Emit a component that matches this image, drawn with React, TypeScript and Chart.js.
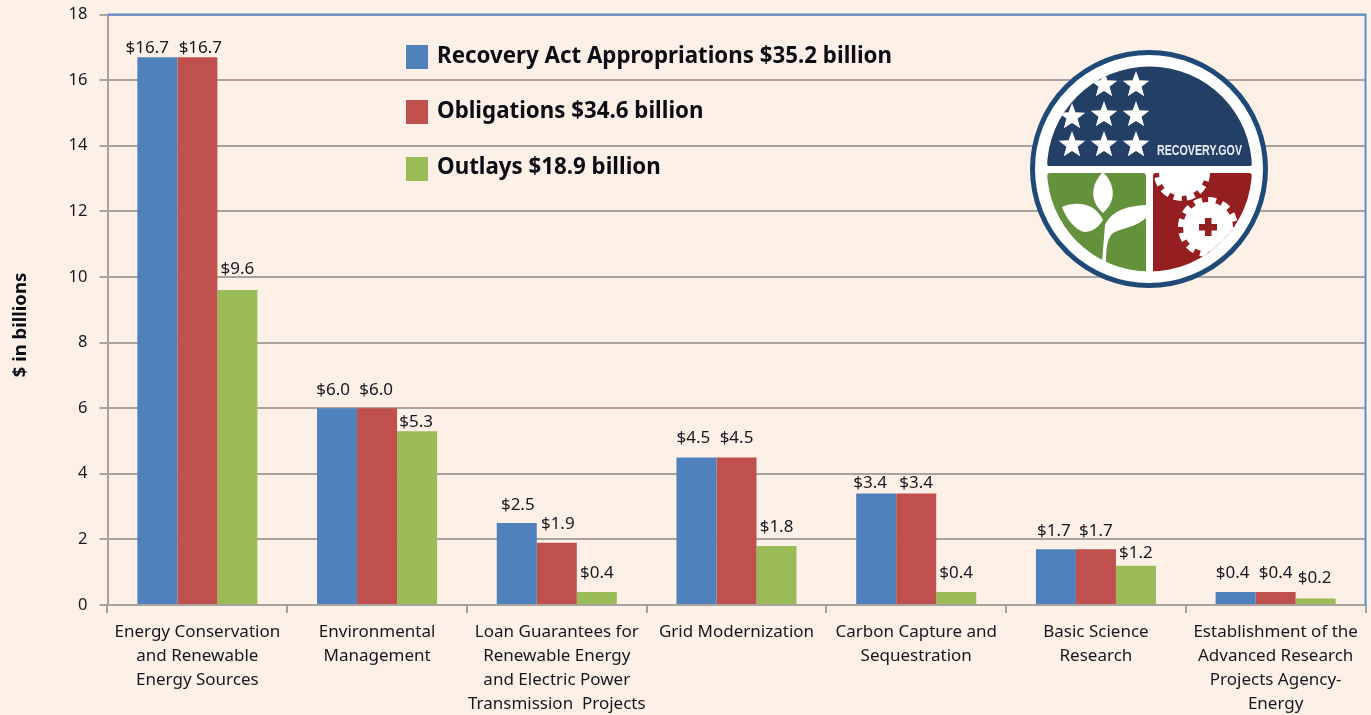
import React, { useEffect, useRef } from "react";
import { Chart, registerables } from "chart.js";

Chart.register(...registerables);

const categories = [
  ["Energy Conservation", "and Renewable", "Energy Sources"],
  ["Environmental", "Management"],
  ["Loan Guarantees for", "Renewable Energy", "and Electric Power", "Transmission  Projects"],
  ["Grid Modernization"],
  ["Carbon Capture and", "Sequestration"],
  ["Basic Science", "Research"],
  ["Establishment of the", "Advanced Research", "Projects Agency-", "Energy"],
];
const appropriations = [16.7, 6.0, 2.5, 4.5, 3.4, 1.7, 0.4];
const obligations = [16.7, 6.0, 1.9, 4.5, 3.4, 1.7, 0.4];
const outlays = [9.6, 5.3, 0.4, 1.8, 0.4, 1.2, 0.2];
const seriesNames = [
  "Recovery Act Appropriations $35.2 billion",
  "Obligations $34.6 billion",
  "Outlays $18.9 billion",
];
const seriesColors = ["#4f81bd", "#c0504d", "#9bbb59"];
const axisTitle = "$ in billions";

const BG = "#fdf0e7";
const GRID = "#a8a39e";
const FRAME = "#5b8ed0";
const INK = "#17171f";
const FONT = '"Noto Sans", sans-serif';

// label placement tweaks [series][category] : dx, distance above bar top
const labelDx = [
  [-10, -4, 1, -3, -6, -2, -3],
  [3, -1, 1, 0, 0, 0, 0],
  [0, -1, 0, 0, 0, 0, -1],
];
const labelRise = [
  [9, 18, 18, 19, 10, 18, 19],
  [9, 18, 19, 19, 10, 18, 19],
  [21, 9, 19, 19, 19, 12, 20],
];

const chromePlugin = {
  id: "chrome",
  beforeDatasetsDraw(chart: any) {
    const { ctx, chartArea: a } = chart;
    ctx.save();
    ctx.strokeStyle = FRAME;
    ctx.lineWidth = 2;
    ctx.beginPath();
    ctx.moveTo(a.left, a.top);
    ctx.lineTo(a.right, a.top);
    ctx.lineTo(a.right, a.bottom);
    ctx.stroke();
    ctx.restore();
  },
  afterDatasetsDraw(chart: any) {
    const { ctx } = chart;
    ctx.save();
    // value labels
    ctx.font = `17px ${FONT}`;
    ctx.fillStyle = INK;
    ctx.textAlign = "center";
    ctx.textBaseline = "middle";
    chart.data.datasets.forEach((ds: any, s: number) => {
      chart.getDatasetMeta(s).data.forEach((bar: any, i: number) => {
        ctx.fillText(`$${ds.data[i].toFixed(1)}`, bar.x + labelDx[s][i], bar.y - labelRise[s][i]);
      });
    });
    // legend
    const rows = [45, 100, 157];
    const textRows = [57, 112, 168];
    ctx.textAlign = "left";
    ctx.font = `bold 22.3px ${FONT}`;
    chart.data.datasets.forEach((ds: any, s: number) => {
      ctx.fillStyle = ds.backgroundColor;
      ctx.fillRect(406, rows[s], 22, 24);
      ctx.fillStyle = "#0c0c14";
      ctx.fillText(ds.label, 437, textRows[s]);
    });
    // axis title
    ctx.translate(20.5, 325);
    ctx.rotate(-Math.PI / 2);
    ctx.textAlign = "center";
    ctx.font = `bold 18.5px ${FONT}`;
    ctx.fillText(axisTitle, 0, 0);
    ctx.restore();
  },
};

function star(cx: number, cy: number, r: number) {
  const pts: string[] = [];
  for (let i = 0; i < 10; i++) {
    const rad = i % 2 === 0 ? r : r * 0.42;
    const ang = -Math.PI / 2 + (i * Math.PI) / 5;
    pts.push(`${cx + rad * Math.cos(ang)},${cy + rad * Math.sin(ang)}`);
  }
  return pts.join(" ");
}

const starCentres = [
  [1136, 85], [1104, 85],
  [1136, 115], [1104, 115], [1072, 117],
  [1136, 145], [1104, 145], [1072, 145],
];

function Logo() {
  const navy = "#233f66";
  const red = "#951f20";
  return (
    <svg
      width={1371}
      height={715}
      style={{ position: "absolute", left: 0, top: 0, pointerEvents: "none" }}
    >
      <defs>
        <clipPath id="inner">
          <circle cx={1149.5} cy={169} r={102.5} />
        </clipPath>
        <clipPath id="redField">
          <rect x={1153} y={173} width={99} height={104} />
        </clipPath>
      </defs>
      <circle cx={1149} cy={169} r={116.5} fill="#fff" stroke="#1f4a78" strokeWidth={5} />
      <g clipPath="url(#inner)">
        <rect x={1047} y={60} width={205} height={106} rx={2} fill={navy} />
        <rect x={1047} y={173} width={99} height={104} rx={3} fill="#64923c" />
        <rect x={1153} y={173} width={99} height={104} rx={3} fill={red} />
        {starCentres.map(([x, y], i) => (
          <polygon key={i} points={star(x, y, 14)} fill="#fff" />
        ))}
        {/* leaves */}
        <path d="M1103 172 C1090 185 1090 202 1103 213 C1116 202 1116 185 1103 172 Z" fill="#fff" />
        <path d="M1062 207 C1078 200 1096 204 1103 220 C1098 228 1092 232 1084 232 C1075 230 1066 218 1062 207 Z" fill="#fff" />
        <path d="M1146 205 C1128 206 1112 210 1105 225 L1102 262 L1106 262 C1106 250 1107 238 1113 233 C1122 228 1136 227 1146 218 Z" fill="#fff" />
        {/* gears */}
        <g clipPath="url(#redField)">
          <circle cx={1182} cy={173} r={23} fill="#fff" />
          <circle cx={1182} cy={173} r={25} fill="none" stroke="#fff" strokeWidth={6} strokeDasharray="8 5.1" />
          <circle cx={1208} cy={227} r={25} fill="#fff" />
          <circle cx={1208} cy={227} r={27} fill="none" stroke="#fff" strokeWidth={6} strokeDasharray="8 6.1" />
        </g>
        <rect x={1199} y={224} width={18} height={6.5} fill={red} />
        <rect x={1205} y={218} width={6.5} height={18} fill={red} />
      </g>
      <text
        x={1157}
        y={155}
        fill="#e8edf2"
        textLength={85}
        lengthAdjust="spacingAndGlyphs"
        style={{ font: 'bold 14px "Liberation Sans Narrow", "Liberation Sans", sans-serif' }}
      >
        RECOVERY.GOV
      </text>
    </svg>
  );
}

export default function App() {
  const ref = useRef<HTMLCanvasElement | null>(null);

  useEffect(() => {
    document.body.style.margin = "0";
    document.body.style.background = BG;
    const chart = new Chart(ref.current!, {
      type: "bar",
      data: {
        labels: categories,
        datasets: [appropriations, obligations, outlays].map((data, i) => ({
          label: seriesNames[i],
          data,
          backgroundColor: seriesColors[i],
          barPercentage: 1,
          categoryPercentage: 0.668,
        })),
      },
      options: {
        animation: false,
        responsive: false,
        layout: { padding: { top: 14.5, right: 5.5, left: 0, bottom: 0 } },
        plugins: { legend: { display: false }, tooltip: { enabled: false } },
        scales: {
          x: {
            afterFit: (s: any) => { s.height = 110; s.paddingLeft = 0; s.paddingRight = 0; },
            grid: {
              drawOnChartArea: false,
              color: GRID,
              tickColor: GRID,
              tickLength: 8,
              lineWidth: 2,
            },
            border: { color: GRID, width: 2 },
            ticks: {
              color: INK,
              font: { family: FONT, size: 17, lineHeight: 1.41 },
              maxRotation: 0,
              minRotation: 0,
              autoSkip: false,
              padding: 7,
            },
          },
          y: {
            min: 0,
            max: 18,
            afterFit: (s: any) => { s.width = 107.5; s.paddingTop = 0; s.paddingBottom = 0; },
            grid: {
              color: GRID,
              tickColor: GRID,
              tickLength: 8,
              lineWidth: 2,
            },
            border: { color: GRID, width: 2 },
            ticks: {
              stepSize: 2,
              color: INK,
              font: { family: FONT, size: 16.5 },
              padding: 12,
            },
          },
        },
      },
      plugins: [chromePlugin],
    } as any);
    return () => chart.destroy();
  }, []);

  return (
    <div style={{ position: "absolute", left: 0, top: 0, width: 1371, height: 715, background: BG, overflow: "hidden", filter: "blur(0.4px)" }}>
      <canvas ref={ref} width={1371} height={715} style={{ display: "block" }} />
      <Logo />
    </div>
  );
}
